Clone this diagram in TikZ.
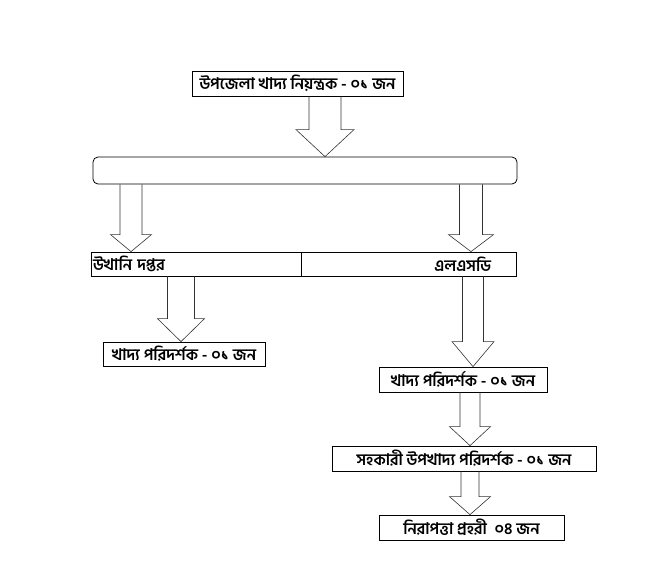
\documentclass[tikz,border=0pt]{standalone}
\usepackage{fontspec}
\setmainfont{Hind Siliguri}[Script=Bengali]
\usetikzlibrary{calc}
\newcommand{\fatarrow}[6]{%
	\draw[fatarr] let \p1=(#2.south), \p2=(#3.north) in
		({(#1-#4)*1pt},\y1) -- ({(#1-#4)*1pt},\y2+#6pt) -- ({(#1-#5)*1pt},\y2+#6pt) -- (#1pt,\y2)
		-- ({(#1+#5)*1pt},\y2+#6pt) -- ({(#1+#4)*1pt},\y2+#6pt) -- ({(#1+#4)*1pt},\y1);
}
\begin{document}
\begin{tikzpicture}[x=1pt,y=-1pt,
	box/.style={draw,line width=0.8pt,inner sep=0pt,font=\fontsize{16}{18}\selectfont\bfseries},
	fatarr/.style={draw=black!80,line width=0.6pt,line join=miter}]
	\useasboundingbox (0,0) rectangle (656,587);
	\node[box,minimum width=211pt,minimum height=25pt] (upazila) at (297.5,83.5) {উপজেলা খাদ্য নিয়ন্ত্রক - ০১ জন};
	\node[box,rounded corners=5pt,minimum width=424pt,minimum height=27pt] (hub) at (305,170.5) {};
	\node[box,minimum width=210pt,minimum height=24pt,text width=206pt,align=left] (usthani) at (196,264) {উখানি দপ্তর};
	\node[box,minimum width=215pt,minimum height=24pt,text width=165pt,align=right] (lsd) at (408.5,264) {এলএসডি};
	\node[box,minimum width=162pt,minimum height=24pt] (inspleft) at (184,354) {খাদ্য পরিদর্শক - ০১ জন};
	\node[box,minimum width=168pt,minimum height=25pt] (inspright) at (463,379.5) {খাদ্য পরিদর্শক - ০১ জন};
	\node[box,minimum width=264pt,minimum height=25pt] (subinsp) at (464,458.5) {সহকারী উপখাদ্য পরিদর্শক - ০১ জন};
	\node[box,minimum width=185pt,minimum height=25pt] (guard) at (471.5,527.5) {নিরাপত্তা প্রহরী\ \ ০৪ জন};
	\fatarrow{325}{upazila}{hub}{16}{29}{27}
	\fatarrow{131}{hub}{usthani}{11}{20.5}{17}
	\fatarrow{471}{hub}{lsd}{11.5}{22.5}{17}
	\fatarrow{181}{usthani}{inspleft}{13.5}{23.5}{23}
	\fatarrow{473}{lsd}{inspright}{10.5}{21}{25}
	\fatarrow{470}{inspright}{subinsp}{10}{20.5}{19}
	\fatarrow{470}{subinsp}{guard}{9}{20.5}{18}
\end{tikzpicture}
\end{document}
